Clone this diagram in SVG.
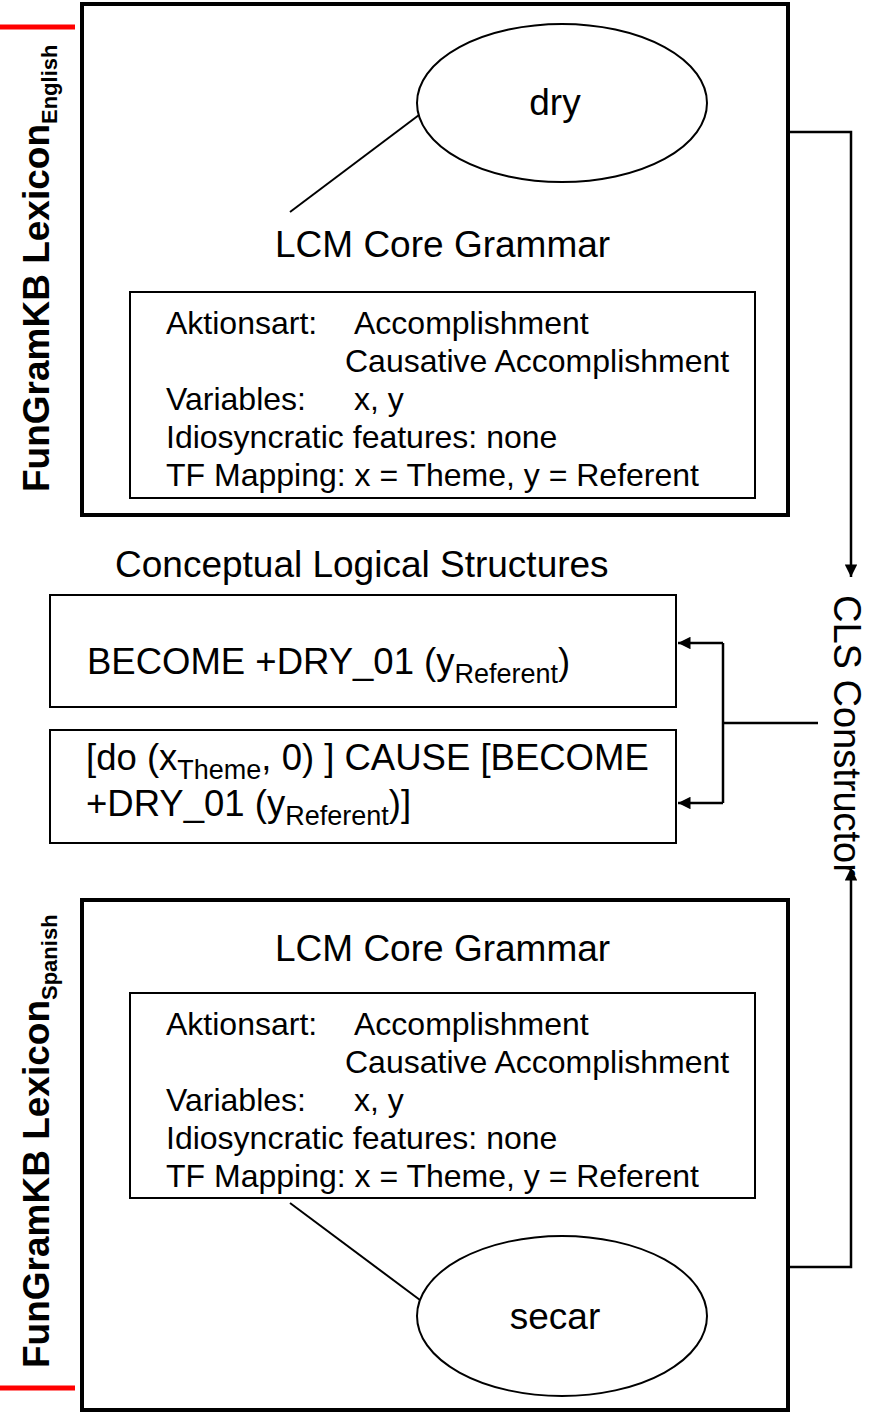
<svg xmlns="http://www.w3.org/2000/svg" width="877" height="1415" viewBox="0 0 877 1415">
<style>
text{font-family:"Liberation Sans",Arial,sans-serif;fill:#000}
.outer{fill:none;stroke:#000;stroke-width:4}
.inner{fill:none;stroke:#000;stroke-width:2}
.ell{fill:none;stroke:#000;stroke-width:2}
.conn{fill:none;stroke:#000;stroke-width:2.5}
.red{stroke:#ff0000;stroke-width:5}
.big{font-size:37px}
.mid{font-size:32px}
.cls{font-size:36.5px}
.sub{font-size:27px}
.lab{font-size:37px;font-weight:bold}
.labsub{font-size:22px;font-weight:bold}
.vert{font-size:38px}
</style>
<defs>
<marker id="ah" viewBox="0 0 10 10" refX="10" refY="5" markerWidth="5.5" markerHeight="5" orient="auto" markerUnits="strokeWidth">
<path d="M0,0 L10,5 L0,10 z" fill="#000"/>
</marker>
</defs>
<line class="red" x1="0" y1="27" x2="75" y2="27"/>
<line class="red" x1="0" y1="1388" x2="75" y2="1388"/>
<g id="lexicon-english">
<rect class="outer" x="82" y="4" width="706" height="511"/>
<text class="lab" transform="translate(49,492) rotate(-90)">FunGramKB Lexicon<tspan class="labsub" dy="8">English</tspan></text>
</g>
<g id="dry">
<ellipse class="ell" cx="562" cy="103" rx="145" ry="79"/>
<text class="big" x="555" y="115" text-anchor="middle">dry</text>
</g>
<g id="lcm-en">
<line class="inner" x1="290" y1="212" x2="419" y2="115"/>
<text class="big" x="275" y="257">LCM Core Grammar</text>
<rect class="inner" x="130" y="292" width="625" height="206"/>
<text class="mid" x="166" y="334">Aktionsart:</text>
<text class="mid" x="354" y="334">Accomplishment</text>
<text class="mid" x="345" y="372">Causative Accomplishment</text>
<text class="mid" x="166" y="410">Variables:</text>
<text class="mid" x="354" y="410">x, y</text>
<text class="mid" x="166" y="448">Idiosyncratic features: none</text>
<text class="mid" x="166" y="486">TF Mapping: x = Theme, y = Referent</text>
</g>
<g id="cls-title">
<text class="big" x="115" y="577">Conceptual Logical Structures</text>
</g>
<g id="cls1">
<rect class="inner" x="50" y="595" width="626" height="112"/>
<text class="cls" x="87" y="674">BECOME +DRY_01 (y<tspan class="sub" dy="9">Referent</tspan><tspan dy="-9">)</tspan></text>
</g>
<g id="cls2">
<rect class="inner" x="50" y="730" width="626" height="113"/>
<text class="cls" x="86" y="770">[do (x<tspan class="sub" dy="9">Theme</tspan><tspan dy="-9">, 0) ] CAUSE [BECOME</tspan></text>
<text class="cls" x="86" y="816">+DRY_01 (y<tspan class="sub" dy="9">Referent</tspan><tspan dy="-9">)]</tspan></text>
</g>
<g id="cls-constructor">
<text class="vert" transform="translate(834,595) rotate(90)">CLS Constructor</text>
</g>
<g id="lexicon-spanish">
<rect class="outer" x="82" y="900" width="706" height="510"/>
<text class="lab" transform="translate(49,1368) rotate(-90)">FunGramKB Lexicon<tspan class="labsub" dy="8">Spanish</tspan></text>
</g>
<g id="lcm-es">
<text class="big" x="275" y="961">LCM Core Grammar</text>
<rect class="inner" x="130" y="993" width="625" height="205"/>
<text class="mid" x="166" y="1035">Aktionsart:</text>
<text class="mid" x="354" y="1035">Accomplishment</text>
<text class="mid" x="345" y="1073">Causative Accomplishment</text>
<text class="mid" x="166" y="1111">Variables:</text>
<text class="mid" x="354" y="1111">x, y</text>
<text class="mid" x="166" y="1149">Idiosyncratic features: none</text>
<text class="mid" x="166" y="1187">TF Mapping: x = Theme, y = Referent</text>
<line class="inner" x1="290" y1="1203" x2="420" y2="1300"/>
</g>
<g id="secar">
<ellipse class="ell" cx="562" cy="1316" rx="145" ry="80"/>
<text class="big" x="555" y="1329" text-anchor="middle">secar</text>
</g>
<g id="connectors">
<polyline class="conn" points="788,132 851,132 851,577" marker-end="url(#ah)"/>
<polyline class="conn" points="788,1267 851,1267 851,868" marker-end="url(#ah)"/>
<line class="conn" x1="818" y1="723" x2="723" y2="723"/>
<polyline class="conn" points="723,643 723,803"/>
<line class="conn" x1="723" y1="643" x2="678" y2="643" marker-end="url(#ah)"/>
<line class="conn" x1="723" y1="803" x2="678" y2="803" marker-end="url(#ah)"/>
</g>
</svg>
